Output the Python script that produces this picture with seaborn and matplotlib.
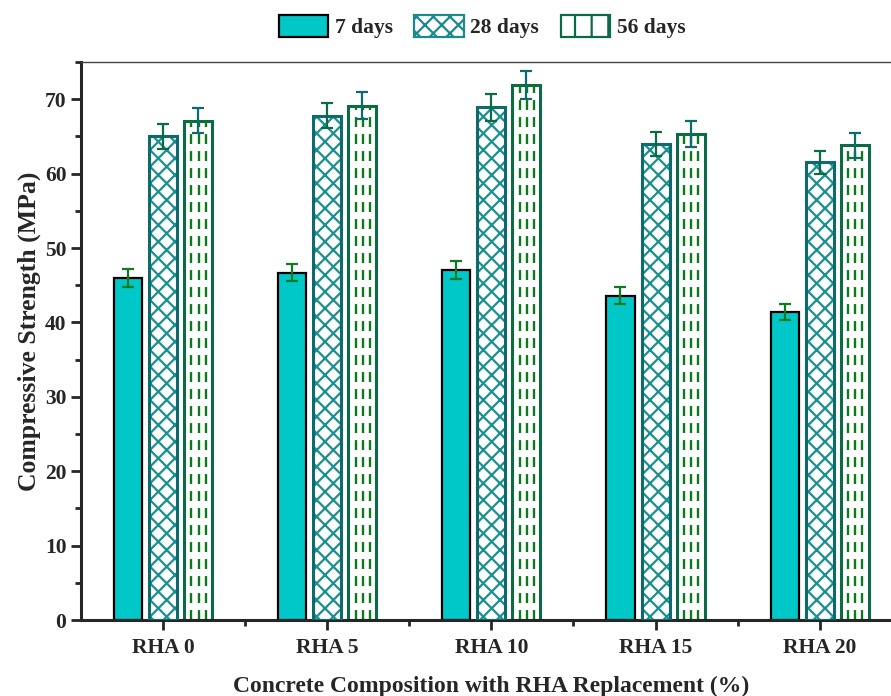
import seaborn as sns
import pandas as pd
import matplotlib.pyplot as plt
from matplotlib.ticker import MultipleLocator
from matplotlib.patches import Patch

mixes = ["RHA 0", "RHA 5", "RHA 10", "RHA 15", "RHA 20"]
ages = ["7 days", "28 days", "56 days"]
strength_7 = [46.0, 46.7, 47.0, 43.6, 41.4]
strength_28 = [65.0, 67.8, 68.9, 64.0, 61.5]
strength_56 = [67.1, 69.1, 71.9, 65.3, 63.8]
err_7 = [1.2, 1.2, 1.2, 1.1, 1.1]
err_28 = [1.7, 1.7, 1.8, 1.6, 1.6]
err_56 = [1.7, 1.8, 1.9, 1.7, 1.7]

rows = []
for vals, errs, age in [(strength_7, err_7, ages[0]), (strength_28, err_28, ages[1]),
                        (strength_56, err_56, ages[2])]:
    for m, v, e in zip(mixes, vals, errs):
        rows.append({"mix": m, "age": age, "strength": v, "err": e})
df = pd.DataFrame(rows)

sns.set_style("ticks")
plt.rcParams['font.family'] = ['Liberation Serif', 'DejaVu Serif']
plt.rcParams['font.weight'] = 'bold'
plt.rcParams['hatch.linewidth'] = 1.6

fig = plt.figure(figsize=(8.91, 6.96), dpi=100)
ax = fig.add_axes([0.091, 0.109, 0.921, 0.802])

sns.barplot(data=df, x="mix", y="strength", hue="age", order=mixes, hue_order=ages,
            width=0.64, gap=0.2, errorbar=None, ax=ax, legend=False)

face = {"7 days": "#00c8c8", "28 days": "white", "56 days": "white"}
edge = {"7 days": "black", "28 days": "#0e6b6b", "56 days": "#0a6b45"}
hatch_col = "#1a9090"
bar_err = {"7 days": "#0f7a1f", "28 days": "#0a6b45", "56 days": "#0e6b6b"}

patches = ax.patches
for i, age in enumerate(ages):
    sub = df[df.age == age]
    for j in range(len(mixes)):
        p = patches[i * len(mixes) + j]
        x0, w, h = p.get_x(), p.get_width(), p.get_height()
        if age == "28 days":
            p.set_facecolor("white")
            p.set_edgecolor(hatch_col)
            p.set_hatch("xx")
            p.set_linewidth(0)
            ax.bar(x0 + w / 2, h, width=w, facecolor="none", edgecolor=edge[age],
                   linewidth=2.2, zorder=3)
        else:
            p.set_facecolor(face[age])
            p.set_edgecolor(edge[age])
            p.set_linewidth(2.2 if age == "56 days" else 1.6)
        if age == "56 days":
            for frac in [0.26, 0.52, 0.78]:
                ax.plot([x0 + frac * w, x0 + frac * w], [0, h], color="#0a7a1a",
                        linewidth=1.7, dashes=(4.2, 3.0), zorder=2.5)
        ax.errorbar(x0 + w / 2, h, yerr=sub["err"].iloc[j], color=bar_err[age],
                    capsize=4, elinewidth=1.6, capthick=1.6, zorder=4)

ax.set_xlim(-0.5, 4.5)
ax.set_ylim(0, 75)
ax.yaxis.set_major_locator(MultipleLocator(10))
ax.yaxis.set_minor_locator(MultipleLocator(5))
ax.set_xticks(range(len(mixes)))
ax.set_xticks([0.5, 1.5, 2.5, 3.5], minor=True)
ax.tick_params(axis="both", which="major", length=7, width=2, direction="out",
               labelsize=15.5)
ax.tick_params(axis="both", which="minor", length=4, width=2, direction="out")
ax.tick_params(axis="x", which="major", pad=6)
for lab in ax.get_xticklabels() + ax.get_yticklabels():
    lab.set_fontweight("bold")

for s in ["left", "bottom"]:
    ax.spines[s].set_linewidth(2.2)
ax.spines["top"].set_linewidth(1.0)
ax.spines["top"].set_color("#444444")

ax.set_xlabel("Concrete Composition with RHA Replacement (%)", fontsize=17,
              fontweight="bold", labelpad=13)
ax.set_ylabel("Compressive Strength (MPa)", fontsize=18.5, fontweight="bold")
ax.yaxis.set_label_coords(-0.049, 0.518)

handles = [
    Patch(facecolor="#00c8c8", edgecolor="black", linewidth=1.6, label=ages[0]),
    Patch(facecolor="white", edgecolor="#1a8a8a", hatch="xx", linewidth=1.6, label=ages[1]),
    Patch(facecolor="white", edgecolor="#0a6b45", hatch="|", linewidth=1.6, label=ages[2]),
]
fig.legend(handles=handles, loc="center", bbox_to_anchor=(0.541, 0.962), ncol=3,
           frameon=False, handlelength=2.3, handleheight=1.2,
           columnspacing=1.0, handletextpad=0.3, prop={"weight": "bold", "size": 15.5})

fig.savefig("out.png", dpi=100)
